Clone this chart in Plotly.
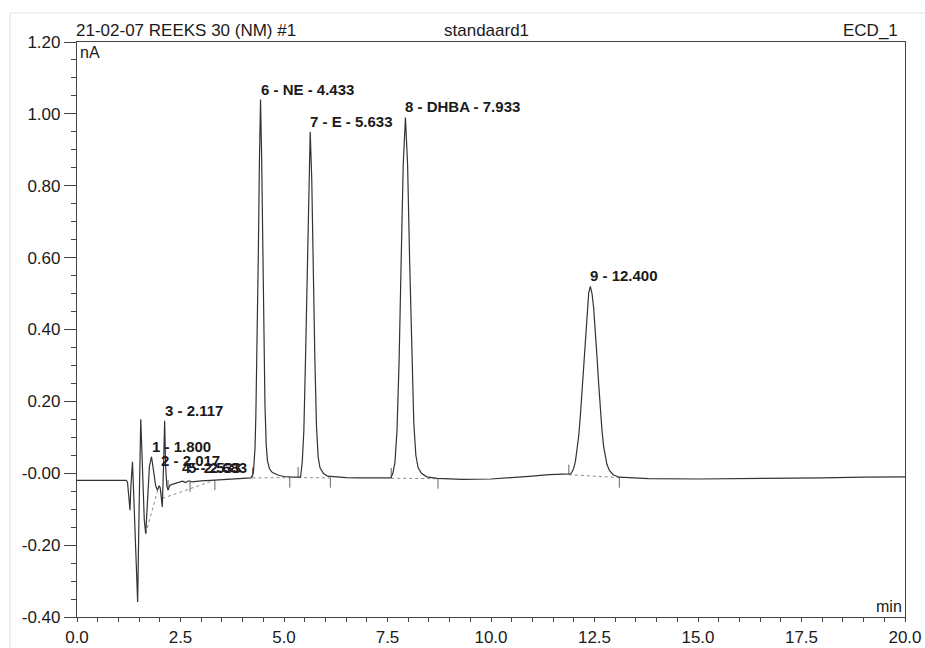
import plotly.graph_objects as go

# ---------------- data ----------------
time_min = [
    0.0, 1.19, 1.22, 1.245, 1.28, 1.30, 1.34, 1.37, 1.42, 1.465, 1.50, 1.54, 1.58, 1.625,
    1.66, 1.70, 1.75, 1.80, 1.84, 1.90, 1.945, 1.985, 2.01, 2.06, 2.09, 2.117, 2.14, 2.17,
    2.20, 2.24, 2.30, 2.43, 2.55, 2.62, 2.70, 2.78, 3.0, 3.33, 3.7, 4.0, 4.20,
    # 6 - NE
    4.26, 4.30, 4.32, 4.35, 4.38, 4.405, 4.433, 4.46, 4.49, 4.515, 4.54, 4.57, 4.60, 4.65,
    4.72, 4.85, 5.0, 5.2, 5.40,
    # 7 - E
    5.44, 5.48, 5.52, 5.56, 5.595, 5.633, 5.67, 5.705, 5.745, 5.785, 5.825, 5.87, 5.95,
    6.05, 6.2, 6.5, 6.8, 7.3, 7.58,
    # 8 - DHBA
    7.63, 7.68, 7.73, 7.78, 7.83, 7.88, 7.933, 7.985, 8.035, 8.085, 8.135, 8.185, 8.24,
    8.32, 8.45, 8.7, 9.3, 10.0, 10.6, 11.0, 11.4, 11.7, 11.85,
    # 9
    11.92, 11.96, 12.00, 12.04, 12.08, 12.12, 12.16, 12.20, 12.24, 12.28, 12.32, 12.36,
    12.40, 12.44, 12.48, 12.52, 12.56, 12.60, 12.64, 12.68, 12.72, 12.76, 12.80, 12.86,
    12.95, 13.1, 13.8, 15.0, 16.5, 18.0, 19.0, 20.0,
]
signal_nA = [
    -0.020, -0.020, -0.025, -0.060, -0.103, -0.040, 0.032, -0.060, -0.250, -0.358, -0.100,
    0.150, 0.020, -0.130, -0.168, -0.080, 0.020, 0.046, 0.010, -0.035, -0.047, -0.035,
    -0.040, -0.094, 0.020, 0.146, 0.020, -0.035, -0.047, -0.034, -0.031, -0.027, -0.022,
    -0.026, -0.021, -0.024, -0.021, -0.019, -0.016, -0.014, -0.013,
    0.000, 0.070, 0.160, 0.340, 0.610, 0.860, 1.040, 0.880, 0.600, 0.370, 0.190, 0.080,
    0.035, 0.012, 0.002, -0.005, -0.009, -0.011, -0.011,
    0.030, 0.120, 0.320, 0.570, 0.820, 0.950, 0.820, 0.570, 0.320, 0.130, 0.045, 0.015,
    0.000, -0.008, -0.010, -0.012, -0.013, -0.014, -0.013,
    0.000, 0.030, 0.120, 0.310, 0.590, 0.860, 0.990, 0.860, 0.590, 0.320, 0.140, 0.050,
    0.015, 0.000, -0.010, -0.014, -0.017, -0.016, -0.012, -0.008, -0.004, -0.003, -0.004,
    -0.002, 0.004, 0.015, 0.034, 0.063, 0.105, 0.162, 0.232, 0.310, 0.388, 0.455, 0.502,
    0.520, 0.500, 0.460, 0.400, 0.325, 0.250, 0.180, 0.120, 0.075, 0.045, 0.025, 0.008,
    -0.004, -0.011, -0.015, -0.016, -0.015, -0.013, -0.011, -0.010,
]

# peak labels
peak_labels = ["1 - 1.800", "2 - 2.017", "3 - 2.117", "4 - 2.533", "5 - 2.683",
               "6 - NE - 4.433", "7 - E - 5.633", "8 - DHBA - 7.933", "9 - 12.400"]
peak_rt = [1.800, 2.017, 2.117, 2.533, 2.683, 4.433, 5.633, 7.933, 12.400]
peak_height = [0.046, 0.006, 0.146, -0.013, -0.013, 1.040, 0.950, 0.990, 0.520]

# integration baselines (start/end time and level)
base_t0 = [1.66, 2.06, 4.24, 5.34, 7.59, 11.88]
base_v0 = [-0.168, -0.070, -0.013, -0.012, -0.014, -0.004]
base_t1 = [1.98, 3.33, 5.14, 6.12, 8.72, 13.10]
base_v1 = [-0.035, -0.019, -0.012, -0.013, -0.015, -0.012]

# integration event markers (time, level, direction +1 up / -1 down)
event_t = [2.06, 2.20, 2.73, 3.33, 4.24, 5.14, 5.34, 6.12, 7.59, 8.72, 11.88, 13.10]
event_v = [-0.050, -0.047, -0.024, -0.019, -0.012, -0.012, -0.011, -0.012, -0.013, -0.015, -0.004, -0.012]
event_dir = [-1, 1, -1, -1, 1, -1, 1, -1, 1, -1, 1, -1]

y_tickvals = [1.2, 1.0, 0.8, 0.6, 0.4, 0.2, 0.0, -0.2, -0.4]
y_ticktext = ["1.20", "1.00", "0.80", "0.60", "0.40", "0.20", "-0.00", "-0.20", "-0.40"]
x_tickvals = [0.0, 2.5, 5.0, 7.5, 10.0, 12.5, 15.0, 17.5, 20.0]
x_ticktext = ["0.0", "2.5", "5.0", "7.5", "10.0", "12.5", "15.0", "17.5", "20.0"]

# ---------------- figure ----------------
FONT = "Liberation Sans, Arial, sans-serif"
INK = "#333333"
fig = go.Figure()

# dotted integration baselines
bx, by = [], []
for t0, v0, t1, v1 in zip(base_t0, base_v0, base_t1, base_v1):
    bx += [t0, t1, None]
    by += [v0, v1, None]
fig.add_trace(go.Scatter(x=bx, y=by, mode="lines",
                         line=dict(color="#8a8a8a", width=1, dash="dot"),
                         hoverinfo="skip"))

# event ticks
ex, ey = [], []
for t, v, d in zip(event_t, event_v, event_dir):
    ex += [t, t, None]
    ey += [v, v + d * 0.028, None]
fig.add_trace(go.Scatter(x=ex, y=ey, mode="lines",
                         line=dict(color="#666666", width=1), hoverinfo="skip"))

# chromatogram
fig.add_trace(go.Scatter(x=time_min, y=signal_nA, mode="lines",
                         line=dict(color=INK, width=1.2)))

for lab, rt, h in zip(peak_labels, peak_rt, peak_height):
    fig.add_annotation(x=rt, y=h, xref="x", yref="y", text="<b>%s</b>" % lab,
                       showarrow=False, xanchor="left", yanchor="bottom",
                       xshift=-2, yshift=0,
                       font=dict(family=FONT, size=15, color="#1a1a1a"))

# header texts
header = dict(showarrow=False, xref="paper", yref="paper", y=1, yanchor="bottom",
              font=dict(family=FONT, size=17, color="#1a1a1a"))
fig.add_annotation(x=0, xanchor="left", text="21-02-07 REEKS 30 (NM) #1", xshift=-3, **header)
fig.add_annotation(x=0.494, xanchor="center", text="standaard1", **header)
fig.add_annotation(x=0.994, xanchor="right", text="ECD_1", **header)
fig.add_annotation(x=0, y=1, xref="paper", yref="paper", xanchor="left", yanchor="top",
                   text="nA", showarrow=False, xshift=1, yshift=0,
                   font=dict(family=FONT, size=16, color="#1a1a1a"))
fig.add_annotation(x=1, y=0, xref="paper", yref="paper", xanchor="right", yanchor="bottom",
                   text="min", showarrow=False, xshift=-1,
                   font=dict(family=FONT, size=16, color="#1a1a1a"))

# faint scan border
fig.add_shape(type="line", xref="paper", yref="paper", x0=-0.081, x1=-0.081, y0=-0.06, y1=1.05,
              line=dict(color="#dddddd", width=1))
fig.add_shape(type="line", xref="paper", yref="paper", x0=-0.081, x1=1.03, y0=1.0504, y1=1.0504,
              line=dict(color="#e2e2e2", width=1))

axis_common = dict(showgrid=False, zeroline=False, showline=True, linecolor="#444444",
                   linewidth=1.2, mirror=True, ticks="outside", tickcolor="#444444",
                   tickwidth=1, automargin=False,
                   tickfont=dict(family=FONT, size=17, color="#1a1a1a"))
fig.update_xaxes(range=[0, 20], tickmode="array", tickvals=x_tickvals, ticktext=x_ticktext,
                 ticklen=4, minor=dict(tick0=0, dtick=0.5, ticklen=4, ticks="outside",
                                       tickcolor="#444444"), **axis_common)
fig.update_yaxes(range=[-0.4, 1.2], tickmode="array", tickvals=y_tickvals, ticktext=y_ticktext,
                 ticklen=12, minor=dict(tick0=0, dtick=0.05, ticklen=5, ticks="outside",
                                        tickcolor="#444444"), **axis_common)

fig.update_layout(width=925, height=648, margin=dict(l=77, r=20, t=42, b=31),
                  plot_bgcolor="white", paper_bgcolor="white", showlegend=False,
                  font=dict(family=FONT))

fig.write_html("out.html")
